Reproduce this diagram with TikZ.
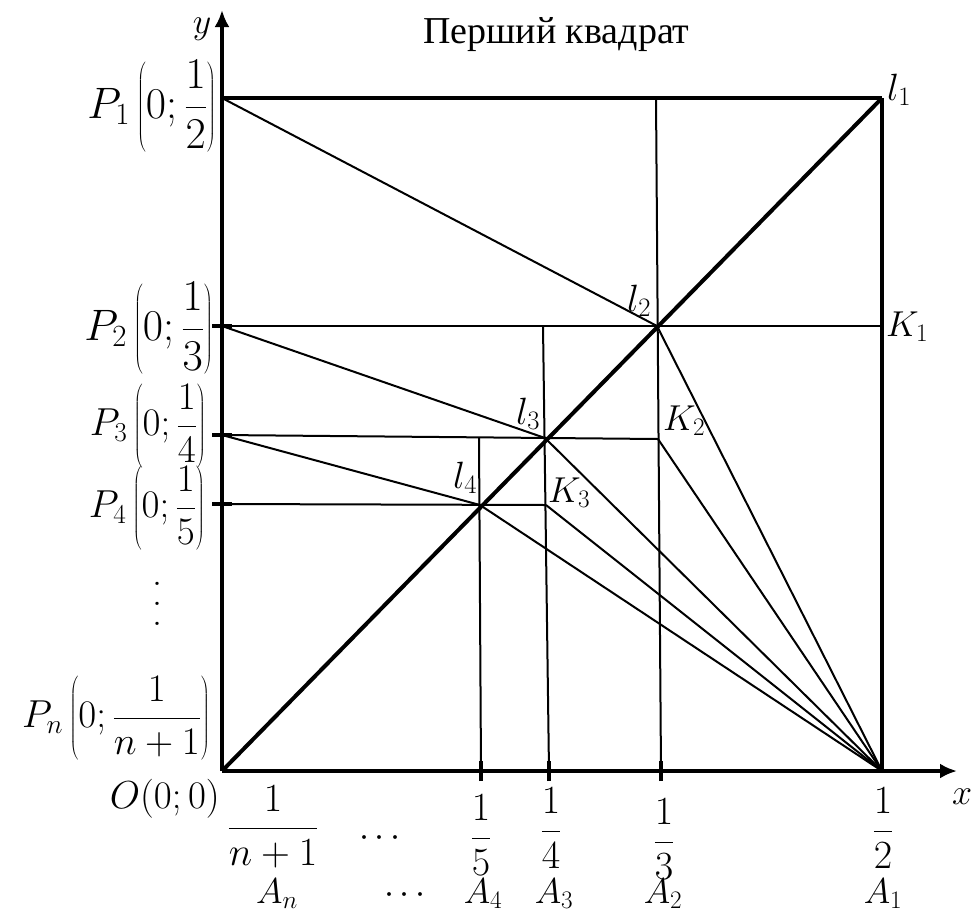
\RequirePackage{fix-cm}
\documentclass[tikz,border=0pt]{standalone}
\usepackage{fontspec}
\newfontfamily\titlefont{Liberation Serif}
\usetikzlibrary{arrows.meta}
\newcommand{\fsz}[1]{\fontsize{#1}{#1}\selectfont}
\begin{document}
\begin{tikzpicture}[x=1pt,y=-1pt,
  thickln/.style={line width=4pt},
  thinln/.style={line width=2pt},
  edgeln/.style={line width=3.2pt},
  tickln/.style={line width=4pt},
  axisarrow/.style={line width=4pt,-{Latex[length=17pt,width=15pt]}},
  lblP/.style={inner sep=0pt,font=\fsz{44}},
  lblQ/.style={inner sep=0pt,font=\fsz{39}},
  lblB/.style={inner sep=0pt,font=\fsz{36}},
  lblL/.style={inner sep=0pt,font=\fsz{38}},
  lblC/.style={inner sep=0pt,font=\fsz{40}},
  ]
\useasboundingbox (0,0) rectangle (976,913);
% points
\coordinate (O) at (222,771);
\coordinate (P1) at (222,98);
\coordinate (L1) at (882,98);
\coordinate (A1) at (882,771);
\coordinate (Ytip) at (222,10);
\coordinate (Xtip) at (957,771);
\coordinate (L2) at (657,326);
\coordinate (K1) at (882,326);
\coordinate (P2) at (222,326);
\coordinate (T2) at (656,98);
\coordinate (B2) at (661,771);
\coordinate (L3) at (545,438);
\coordinate (K2) at (658,439);
\coordinate (P3) at (222,435);
\coordinate (T3) at (543,326);
\coordinate (B3) at (549,771);
\coordinate (L4) at (480,505);
\coordinate (K3) at (546,505);
\coordinate (P4) at (222,504);
\coordinate (T4) at (479,438);
\coordinate (B4) at (481,771);
% thin lines
\draw[thinln] (P1) -- (L2);
\draw[thinln] (T2) -- (B2);
\draw[thinln] (P2) -- (K1);
\draw[thinln] (P2) -- (L3);
\draw[thinln] (T3) -- (B3);
\draw[thinln] (P3) -- (K2);
\draw[thinln] (P3) -- (L4);
\draw[thinln] (T4) -- (B4);
\draw[thinln] (P4) -- (K3);
\draw[thinln] (L2) -- (A1);
\draw[thinln] (K2) -- (A1);
\draw[thinln] (L3) -- (A1);
\draw[thinln] (K3) -- (A1);
\draw[thinln] (L4) -- (A1);
% thick lines
\draw[thickln] (P1) -- (L1);
\draw[thickln] (O) -- (L1);
\draw[edgeln] (L1) -- (A1);
\draw[axisarrow] (O) -- (Ytip);
\draw[axisarrow] (O) -- (Xtip);
% ticks
\draw[tickln] ([xshift=-10pt]P2) -- ([xshift=10pt]P2);
\draw[tickln] ([xshift=-10pt]P3) -- ([xshift=10pt]P3);
\draw[tickln] ([xshift=-10pt]P4) -- ([xshift=10pt]P4);
\draw[tickln] ([yshift=-10pt]B2) -- ([yshift=10pt]B2);
\draw[tickln] ([yshift=-10pt]B3) -- ([yshift=10pt]B3);
\draw[tickln] ([yshift=-10pt]B4) -- ([yshift=10pt]B4);
% labels
\node[lblB] (ylab) at (202,29) {$y$};
\node[lblB] (xlab) at (962,797) {$x$};
\node[font=\titlefont\fsz{38},inner sep=0pt,anchor=base west] (title) at (423,43) {Перший квадрат};
\node[lblP,anchor=east] (p1lab) at (216,106) {$\displaystyle P_1\left(0;\frac{1}{2}\right)$};
\node[lblP,anchor=east] (p2lab) at (213,328) {$\displaystyle P_2\left(0;\frac{1}{3}\right)$};
\node[lblQ,anchor=east] (p3lab) at (206,426) {$\displaystyle P_3\left(0;\frac{1}{4}\right)$};
\node[lblQ,anchor=east] (p4lab) at (205,508) {$\displaystyle P_4\left(0;\frac{1}{5}\right)$};
\node[inner sep=0pt,align=center,font=\fontsize{40}{20}\selectfont] (vd) at (157,604) {.\\.\\.};
\node[lblQ,anchor=east] (pnlab) at (210,718) {$\displaystyle P_n\left(0;\frac{1}{n+1}\right)$};
\node[lblQ,anchor=base east] (olab) at (220,808) {$O(0;0)$};
\node[lblC] (fn) at (273,827) {$\displaystyle\frac{1}{n+1}$};
\node[lblC] (f5) at (481,835) {$\displaystyle\frac{1}{5}$};
\node[lblC] (f4) at (551,828) {$\displaystyle\frac{1}{4}$};
\node[lblC] (f3) at (664,839) {$\displaystyle\frac{1}{3}$};
\node[lblC] (f2) at (883,828) {$\displaystyle\frac{1}{2}$};
\node[lblB] (dots1) at (380,838) {$\cdots$};
\node[lblB,anchor=base] (An) at (277,903) {$A_n$};
\node[lblB,anchor=base] (dots2) at (405,903) {$\cdots$};
\node[lblB,anchor=base] (A4) at (483,903) {$A_4$};
\node[lblB,anchor=base] (A3) at (554,903) {$A_3$};
\node[lblB,anchor=base] (A2) at (663,903) {$A_2$};
\node[lblB,anchor=base] (A1lab) at (883,903) {$A_1$};
\node[lblL,anchor=base west] (l1lab) at (887,100) {$l_1$};
\node[lblB,anchor=base west] (k1lab) at (886,336) {$K_1$};
\node[lblL,anchor=base west] (l2lab) at (627,311) {$l_2$};
\node[lblL,anchor=base west] (l3lab) at (516,424) {$l_3$};
\node[lblL,anchor=base west] (l4lab) at (453,488) {$l_4$};
\node[lblB,anchor=base west] (k2lab) at (663,430) {$K_2$};
\node[lblB,anchor=base west] (k3lab) at (548,502) {$K_3$};
\end{tikzpicture}
\end{document}
